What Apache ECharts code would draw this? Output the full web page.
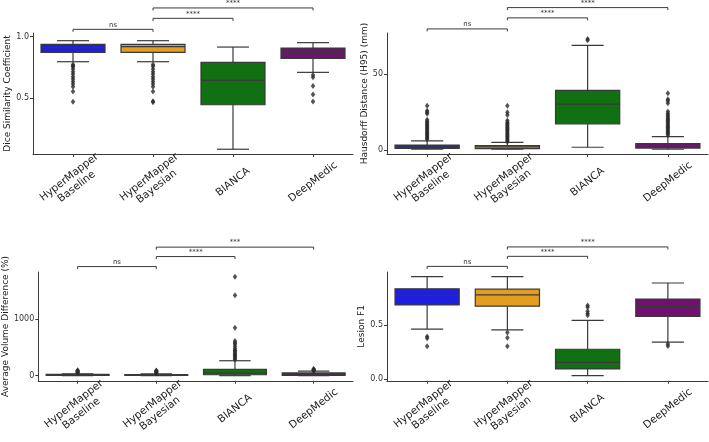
<!DOCTYPE html>
<html>
<head>
<meta charset="utf-8">
<script src="https://cdn.jsdelivr.net/npm/echarts@6/dist/echarts.min.js"></script>
<style>
html,body{margin:0;padding:0;background:#fff;}
#chart{width:709px;height:442px;}
</style>
</head>
<body>
<div id="chart"></div>
<script>
// ---------- data ----------
const categories = ['HyperMapper\nBaseline', 'HyperMapper\nBayesian', 'BIANCA', 'DeepMedic'];

// box stats: [whiskerLow, Q1, median, Q3, whiskerHigh]
const diceBox = [
  [0.795, 0.872, 0.910, 0.937, 0.967],
  [0.795, 0.872, 0.918, 0.937, 0.967],
  [0.079, 0.443, 0.642, 0.790, 0.915],
  [0.708, 0.822, 0.869, 0.907, 0.951]
];
const diceOutliers = [
  [0.773, 0.762, 0.753, 0.735, 0.713, 0.694, 0.672, 0.653, 0.634, 0.612, 0.590, 0.552, 0.467],
  [0.773, 0.758, 0.735, 0.713, 0.694, 0.672, 0.653, 0.634, 0.612, 0.590, 0.552, 0.472, 0.464],
  [],
  [0.686, 0.667, 0.596, 0.527, 0.470]
];

const hdBox = [
  [0.5, 1.1, 2.0, 3.3, 6.0],
  [0.5, 0.9, 2.0, 2.9, 5.1],
  [1.8, 17.3, 30.3, 39.4, 69.2],
  [0.5, 1.3, 2.9, 4.2, 8.8]
];
const hdOutliers = [
  [7.1, 7.8, 8.6, 9.4, 10.2, 11.0, 11.8, 12.6, 13.4, 14.2, 15.0, 15.8, 16.6, 17.4, 18.2, 19.0, 20.0, 23.9, 25.0, 26.0, 29.2],
  [5.5, 6.3, 7.1, 7.9, 8.7, 9.5, 10.3, 11.1, 11.9, 12.7, 13.5, 14.3, 15.1, 15.9, 16.7, 17.5, 18.3, 19.5, 23.2, 25.0, 29.2],
  [72.6, 73.4],
  [10.0, 10.8, 11.6, 12.4, 13.2, 14.0, 14.8, 15.6, 16.4, 17.2, 18.0, 18.8, 19.6, 20.4, 21.2, 22.2, 23.2, 24.2, 25.4, 31.0, 32.5, 33.6, 37.6]
];

const volBox = [
  [0, 3, 9, 22, 32],
  [0, 3, 8, 20, 30],
  [0, 16, 45, 113, 265],
  [0, 5, 16, 48, 80]
];
const volOutliers = [
  [45, 55, 65, 75, 85, 95],
  [42, 52, 62, 72, 82, 92],
  [285, 306, 330, 350, 370, 387, 414, 440, 452, 484, 522, 560, 586, 613, 850, 1425, 1753],
  [88, 96, 104, 112, 119]
];

const f1Box = [
  [0.461, 0.685, 0.775, 0.834, 0.947],
  [0.455, 0.674, 0.778, 0.831, 0.947],
  [0.031, 0.093, 0.154, 0.275, 0.542],
  [0.340, 0.579, 0.671, 0.739, 0.888]
];
const f1Outliers = [
  [0.393, 0.376, 0.303],
  [0.430, 0.382, 0.303],
  [0.680, 0.663, 0.626, 0.607, 0.590],
  [0.323, 0.306]
];

// significance brackets: [fromCategory, toCategory, bracketValue]
const diceSig = [[0, 1, 1.06], [1, 2, 1.15], [1, 3, 1.235]];
const hdSig = [[0, 1, 80.1], [1, 2, 87.4], [1, 3, 94.2]];
const volSig = [[0, 1, 1935], [1, 2, 2113], [1, 3, 2280]];
const f1Sig = [[0, 1, 1.042], [1, 2, 1.135], [1, 3, 1.222]];
const diceSigLabels = ['ns', '****', '****'];
const hdSigLabels = ['ns', '****', '****'];
const volSigLabels = ['ns', '****', '***'];
const f1SigLabels = ['ns', '****', '****'];

const yNames = ['Dice Similarity Coefficient', 'Hausdorff Distance (H95) (mm)', 'Average Volume Difference (%)', 'Lesion F1'];
const yTicks = [[0.5, 1.0], [0, 50], [0, 1000], [0.0, 0.5]];

// ---------- styles ----------
const boxColors = ['#1e1ee0', '#e39e22', '#117011', '#701170'];
const lineColor = '#3a3a3a';
const FONT = 'DejaVu Sans';

const grids = [
  { left: 33, top: 33, width: 320, height: 121 },
  { left: 387, top: 33, width: 321, height: 121 },
  { left: 33, top: 272, width: 320, height: 119 },
  { left: 387, top: 272, width: 321, height: 119 }
];
const yRanges = [[0.04, 1.03], [-2.65, 77.4], [-91, 1839], [-0.017, 0.99]];
const nameGaps = [16, 16, 28, 16];

const panels = [
  { box: diceBox, out: diceOutliers, sig: diceSig, sigL: diceSigLabels, fmt: v => v.toFixed(1) },
  { box: hdBox, out: hdOutliers, sig: hdSig, sigL: hdSigLabels, fmt: v => String(v) },
  { box: volBox, out: volOutliers, sig: volSig, sigL: volSigLabels, fmt: v => String(v) },
  { box: f1Box, out: f1Outliers, sig: f1Sig, sigL: f1SigLabels, fmt: v => v.toFixed(1) }
];

function renderBox(params, api) {
  const ci = api.value(0);
  const lo = api.coord([ci, api.value(1)]);
  const q1 = api.coord([ci, api.value(2)]);
  const md = api.coord([ci, api.value(3)]);
  const q3 = api.coord([ci, api.value(4)]);
  const hi = api.coord([ci, api.value(5)]);
  const bw = api.size([1, 0])[0] * 0.8;
  const cx = md[0];
  const cap = bw / 4;
  const ls = { stroke: lineColor, lineWidth: 1.2 };
  return {
    type: 'group',
    children: [
      { type: 'line', shape: { x1: cx, y1: q3[1], x2: cx, y2: hi[1] }, style: ls },
      { type: 'line', shape: { x1: cx, y1: q1[1], x2: cx, y2: lo[1] }, style: ls },
      { type: 'line', shape: { x1: cx - cap, y1: hi[1], x2: cx + cap, y2: hi[1] }, style: ls },
      { type: 'line', shape: { x1: cx - cap, y1: lo[1], x2: cx + cap, y2: lo[1] }, style: ls },
      { type: 'rect', shape: { x: cx - bw / 2, y: q3[1], width: bw, height: Math.max(q1[1] - q3[1], 0.5) },
        style: { fill: boxColors[ci], stroke: lineColor, lineWidth: 1.2 } },
      { type: 'line', shape: { x1: cx - bw / 2, y1: md[1], x2: cx + bw / 2, y2: md[1] }, style: ls }
    ]
  };
}

function makeSigRenderer(labels) {
  return function (params, api) {
    const a = api.coord([api.value(0), api.value(2)]);
    const b = api.coord([api.value(1), api.value(2)]);
    const drop = 2.5;
    return {
      type: 'group',
      children: [
        { type: 'polyline', shape: { points: [[a[0], a[1] + drop], [a[0], a[1]], [b[0], b[1]], [b[0], b[1] + drop]] },
          style: { stroke: lineColor, lineWidth: 1, fill: null } },
        { type: 'text', style: { text: labels[params.dataIndex], x: (a[0] + b[0]) / 2, y: a[1] - 1,
          align: 'center', verticalAlign: 'bottom', fontSize: 7, fontFamily: FONT, fill: '#333' } }
      ]
    };
  };
}

const xAxes = [], yAxes = [], series = [];
panels.forEach((p, i) => {
  xAxes.push({
    type: 'category', gridIndex: i, data: categories,
    axisLine: { show: true, onZero: false, lineStyle: { color: lineColor, width: 1 } },
    axisTick: { show: true, alignWithLabel: true, length: 3, lineStyle: { color: lineColor } },
    axisLabel: { interval: 0, rotate: 38, align: 'center', verticalAlign: 'middle', margin: 28,
      fontSize: 10.5, fontFamily: FONT, color: '#222', lineHeight: 12 },
    splitLine: { show: false }
  });
  yAxes.push({
    type: 'value', gridIndex: i, min: yRanges[i][0], max: yRanges[i][1],
    name: yNames[i], nameLocation: 'middle', nameRotate: 90, nameGap: nameGaps[i],
    nameTextStyle: { fontSize: 9, fontFamily: FONT, color: '#222' },
    axisLine: { show: true, lineStyle: { color: lineColor, width: 1 } },
    axisTick: { show: true, length: 3, customValues: yTicks[i], lineStyle: { color: lineColor } },
    axisLabel: { customValues: yTicks[i], formatter: p.fmt, fontSize: 8, fontFamily: FONT, color: '#333', margin: 4 },
    splitLine: { show: false }
  });
  series.push({
    type: 'custom', xAxisIndex: i, yAxisIndex: i, renderItem: renderBox,
    encode: { x: 0, y: [1, 2, 3, 4, 5] },
    data: p.box.map((b, ci) => [ci].concat(b)), z: 2
  });
  const pts = [];
  p.out.forEach((arr, ci) => arr.forEach(v => pts.push([ci, v])));
  series.push({
    type: 'scatter', xAxisIndex: i, yAxisIndex: i, symbol: 'diamond', symbolSize: [4.5, 6],
    itemStyle: { color: '#2a2a2a' }, data: pts, z: 3, silent: true
  });
  series.push({
    type: 'custom', xAxisIndex: i, yAxisIndex: i, renderItem: makeSigRenderer(p.sigL), clip: false,
    encode: { x: [0, 1], y: 2 }, data: p.sig, z: 4
  });
});

const chart = echarts.init(document.getElementById('chart'));
chart.setOption({
  animation: false,
  backgroundColor: '#fff',
  grid: grids,
  xAxis: xAxes,
  yAxis: yAxes,
  series: series
});
</script>
</body>
</html>
